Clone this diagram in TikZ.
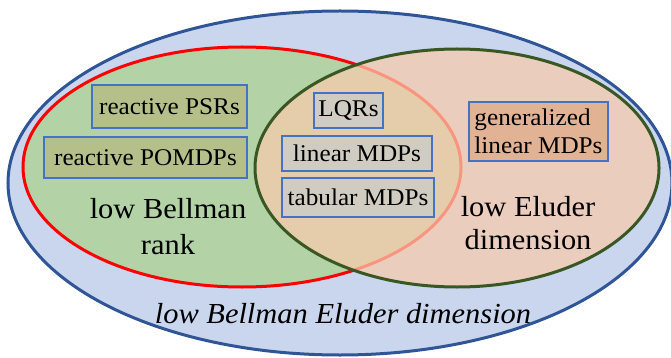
\documentclass[tikz,border=0pt]{standalone}
\usepackage{fontspec}
\setmainfont{Liberation Serif}[FakeStretch=1.05]
\definecolor{outerfill}{HTML}{C9D6EE}
\definecolor{outerline}{HTML}{2F5597}
\definecolor{rankfill}{HTML}{B3D3A7}
\definecolor{rankline}{HTML}{FF0000}
\definecolor{eluderfill}{HTML}{F8CBAD}
\definecolor{eluderline}{HTML}{385723}
\definecolor{boxline}{HTML}{4472C4}
\definecolor{olivebox}{HTML}{B5BF89}
\definecolor{greybox}{HTML}{D0CCC2}
\definecolor{orangebox}{HTML}{E2B295}
\begin{document}
\begin{tikzpicture}[x=1pt,y=-1pt,
  region/.style={line width=3pt},
  item/.style={draw=boxline, line width=1.3pt, inner sep=0pt, text=black,
    font=\fontsize{24}{28}\selectfont},
  biglabel/.style={anchor=base, text=black, font=\fontsize{29}{33}\selectfont, inner sep=0pt}]
\useasboundingbox (0,0) rectangle (671,358);
\clip (0,0) rectangle (671,358);

% outer set
\draw[region, draw=outerline, fill=outerfill] (340,183) ellipse [x radius=332, y radius=172];
% low Bellman rank
\draw[region, draw=rankline, fill=rankfill] (242,167) ellipse [x radius=219, y radius=120];
% low Eluder dimension (translucent fill over the rank set)
\draw[region, draw=eluderline, fill=eluderfill, fill opacity=0.73] (457,168) ellipse [x radius=202, y radius=119];

% members
\node[item, fill=olivebox, minimum width=155pt, minimum height=43pt] (psr) at (169.5,106.5) {reactive PSRs};
\node[item, fill=olivebox, minimum width=203pt, minimum height=41pt] (pomdp) at (145.5,157.5) {reactive POMDPs};
\node[item, fill=greybox, minimum width=69pt, minimum height=35pt] (lqr) at (348.5,110.5) {LQRs};
\node[item, fill=greybox, minimum width=150pt, minimum height=35pt] (lin) at (357,153.5) {linear MDPs};
\node[item, fill=greybox, minimum width=152pt, minimum height=39pt] (tab) at (358,197.5) {tabular MDPs};
\node[item, fill=orangebox, minimum width=139pt, minimum height=59pt, align=left] (glm) at (538.5,131.5) {generalized\\linear MDPs};

% set labels
\node[biglabel] (bellA) at (168,218) {low Bellman};
\node[biglabel] (bellB) at (168,254) {rank};
\node[biglabel] (eluA) at (528,216) {low Eluder};
\node[biglabel] (eluB) at (528,249) {dimension};
\node[biglabel, font=\fontsize{29}{33}\selectfont\itshape] (bed) at (343,323) {low Bellman Eluder dimension};
\end{tikzpicture}
\end{document}
